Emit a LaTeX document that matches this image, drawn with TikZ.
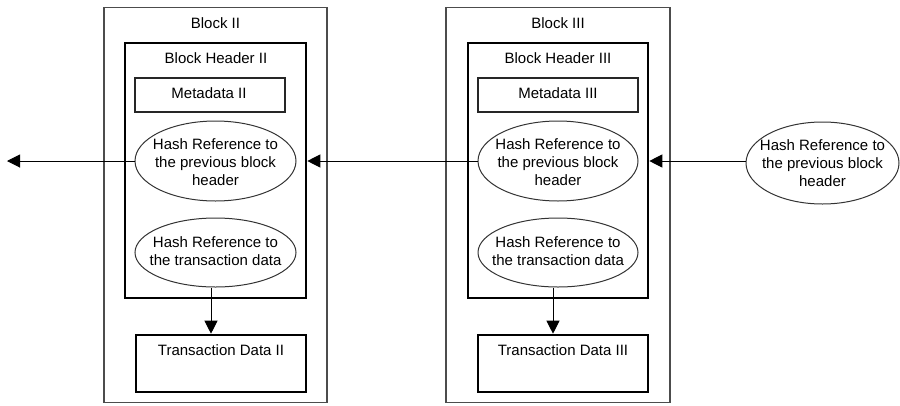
\documentclass[tikz,border=0pt]{standalone}
\usepackage{fontspec}
\setmainfont{Liberation Sans}
\usetikzlibrary{shapes.geometric,arrows.meta,calc}

\tikzset{
  outerbox/.style={draw=black!70, line width=1.3pt, rectangle, inner sep=0pt},
  headerbox/.style={draw=black, line width=2.6pt, rectangle, inner sep=0pt},
  metabox/.style={draw=black!85, line width=1.3pt, rectangle, inner sep=0pt},
  txbox/.style={draw=black, line width=2.6pt, rectangle, inner sep=0pt},
  hashref/.style={draw=black!80, line width=1pt, ellipse, inner sep=0pt},
  lbl/.style={inner sep=0pt, align=center, font=\fontsize{15}{18}\selectfont},
  link/.style={draw=black, line width=1pt,
    -{Triangle[length=13pt,width=13pt]}},
}

\begin{document}
\begin{tikzpicture}[x=1pt,y=-1pt]
  \useasboundingbox (0,0) rectangle (900,405);

  % ---- Block II ----
  \node[outerbox, minimum width=223pt, minimum height=395pt] (blkII) at (215.5,205) {};
  \node[lbl] (tblkII) at (215.5,23) {Block II};
  \node[headerbox, minimum width=181pt, minimum height=255pt] (hdrII) at (215.5,170.5) {};
  \node[lbl] (thdrII) at (216,58) {Block Header II};
  \node[metabox, minimum width=150pt, minimum height=34pt] (metaII) at (210,95) {};
  \node[lbl] (tmetaII) at (209,93.5) {Metadata II};
  \node[hashref, minimum width=161pt, minimum height=80pt] (prevII) at (215.5,161) {};
  \node[lbl] (tprevII) at (215.5,162) {Hash Reference to\\the previous block\\header};
  \node[hashref, minimum width=161pt, minimum height=69pt] (txrefII) at (215.5,252.5) {};
  \node[lbl] (ttxrefII) at (215.5,251.5) {Hash Reference to\\the transaction data};
  \node[txbox, minimum width=170pt, minimum height=57pt] (txII) at (221,363.5) {};
  \node[lbl] (ttxII) at (221,350) {Transaction Data II};

  % ---- Block III ----
  \node[outerbox, minimum width=224pt, minimum height=395pt] (blkIII) at (558,205) {};
  \node[lbl] (tblkIII) at (558,23) {Block III};
  \node[headerbox, minimum width=180pt, minimum height=255pt] (hdrIII) at (558,170.5) {};
  \node[lbl] (thdrIII) at (558,58) {Block Header III};
  \node[metabox, minimum width=160pt, minimum height=34pt] (metaIII) at (558,95) {};
  \node[lbl] (tmetaIII) at (558,93.5) {Metadata III};
  \node[hashref, minimum width=160pt, minimum height=80pt] (prevIII) at (558,161) {};
  \node[lbl] (tprevIII) at (558,162) {Hash Reference to\\the previous block\\header};
  \node[hashref, minimum width=160pt, minimum height=69pt] (txrefIII) at (558,252.5) {};
  \node[lbl] (ttxrefIII) at (558,251.5) {Hash Reference to\\the transaction data};
  \node[txbox, minimum width=170pt, minimum height=57pt] (txIII) at (563,363.5) {};
  \node[lbl] (ttxIII) at (563,350) {Transaction Data III};

  % ---- next block's reference ----
  \node[hashref, minimum width=153pt, minimum height=82pt] (prevIV) at (822.5,163) {};
  \node[lbl] (tprevIV) at (822.5,163) {Hash Reference to\\the previous block\\header};

  % ---- hash links ----
  \coordinate (far) at (7,161);
  \draw[link] (prevII.west) -- (far);
  \draw[link] (prevIII.west) -- (hdrII.east |- prevIII.west);
  \draw[link] (prevIV.west |- prevIII.west) -- (hdrIII.east |- prevIII.west);
  \draw[link] ([xshift=-4.5pt]txrefII.south) -- ([xshift=-4.5pt]txrefII.south |- txII.north);
  \draw[link] ([xshift=-5pt]txrefIII.south) -- ([xshift=-5pt]txrefIII.south |- txIII.north);
\end{tikzpicture}
\end{document}
